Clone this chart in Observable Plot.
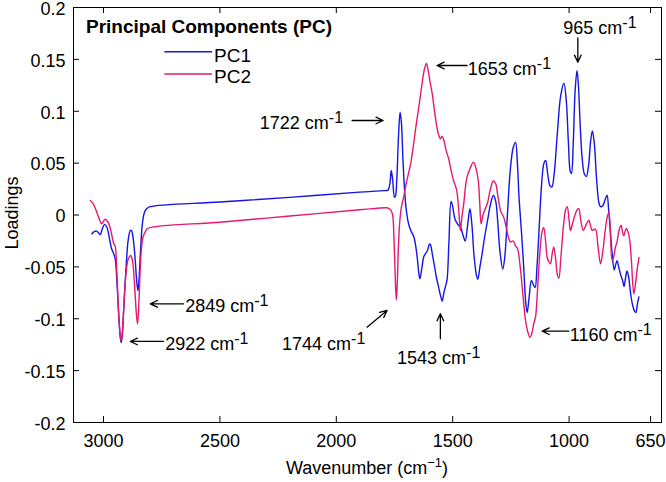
<!DOCTYPE html>
<html><head><meta charset="utf-8">
<script src="https://cdn.jsdelivr.net/npm/d3@7"></script>
<script src="https://cdn.jsdelivr.net/npm/@observablehq/plot@0.6"></script>
<style>
html,body{margin:0;padding:0;background:#fff;overflow:hidden;}
#chart svg{display:block;overflow:visible;}
</style></head><body><div id="chart"></div>
<script>
const xTicks = [3000, 2500, 2000, 1500, 1000, 650];
const yTicks = [-0.2, -0.15, -0.1, -0.05, 0, 0.05, 0.1, 0.15, 0.2];
const seriesNames = ["PC1", "PC2"];
const legendTitle = "Principal Components (PC)";

// [wavenumber, loading]
const pc1 = [[3050,-0.018],[3040,-0.016],[3030,-0.0155],[3022,-0.017],[3014,-0.019],[3005,-0.013],[2995,-0.009],[2985,-0.012],[2975,-0.022],[2966,-0.032],[2957,-0.037],[2950,-0.042],[2943,-0.062],[2935,-0.095],[2928,-0.118],[2924,-0.123],[2919,-0.115],[2912,-0.085],[2903,-0.05],[2894,-0.024],[2885,-0.015],[2880,-0.015],[2873,-0.022],[2865,-0.04],[2857,-0.065],[2852,-0.073],[2847,-0.06],[2840,-0.03],[2833,-0.008],[2825,0.002],[2815,0.006],[2800,0.008],[2500,0.0125],[2200,0.017],[1900,0.022],[1800,0.0235],[1778,0.024],[1770,0.03],[1764,0.043],[1758,0.034],[1750,0.017],[1746,0.018],[1740,0.035],[1733,0.075],[1726,0.099],[1720,0.088],[1714,0.055],[1707,0.025],[1700,0.006],[1690,-0.008],[1680,-0.015],[1667,-0.021],[1655,-0.036],[1646,-0.055],[1641,-0.0615],[1633,-0.052],[1624,-0.04],[1616,-0.037],[1608,-0.034],[1600,-0.028],[1595,-0.029],[1588,-0.037],[1580,-0.047],[1570,-0.06],[1560,-0.07],[1552,-0.078],[1545,-0.083],[1538,-0.075],[1530,-0.068],[1524,-0.062],[1516,-0.025],[1507,0.013],[1500,0.008],[1490,-0.004],[1478,-0.009],[1466,-0.012],[1455,-0.02],[1446,-0.025],[1436,-0.01],[1426,0.006],[1418,-0.008],[1408,-0.04],[1398,-0.058],[1392,-0.062],[1383,-0.05],[1374,-0.038],[1362,-0.02],[1350,-0.005],[1338,0.01],[1325,0.019],[1315,0.013],[1307,-0.005],[1297,-0.035],[1285,-0.052],[1276,-0.04],[1265,0.0],[1252,0.045],[1240,0.065],[1230,0.07],[1222,0.05],[1215,0.017],[1205,-0.015],[1195,-0.05],[1186,-0.085],[1180,-0.094],[1172,-0.08],[1162,-0.063],[1154,-0.067],[1146,-0.07],[1138,-0.05],[1128,-0.01],[1118,0.03],[1108,0.05],[1101,0.0525],[1092,0.04],[1082,0.028],[1074,0.027],[1064,0.04],[1050,0.08],[1036,0.115],[1022,0.127],[1012,0.11],[1003,0.07],[995,0.042],[990,0.04],[982,0.07],[974,0.12],[966,0.139],[960,0.125],[952,0.085],[944,0.055],[935,0.04],[926,0.037],[916,0.048],[908,0.07],[900,0.081],[892,0.07],[882,0.035],[872,0.012],[865,0.008],[855,0.009],[845,0.015],[837,0.019],[830,0.005],[823,-0.015],[814,-0.04],[806,-0.053],[800,-0.048],[794,-0.044],[786,-0.051],[778,-0.058],[770,-0.063],[764,-0.069],[757,-0.06],[751,-0.054],[744,-0.06],[736,-0.075],[727,-0.087],[718,-0.093],[713,-0.094],[706,-0.085],[700,-0.079]];

const pc2 = [[3057,0.014],[3048,0.012],[3038,0.008],[3028,0.002],[3018,-0.004],[3008,-0.0085],[3000,-0.006],[2993,-0.004],[2983,-0.006],[2973,-0.011],[2964,-0.02],[2957,-0.027],[2950,-0.03],[2943,-0.055],[2935,-0.095],[2928,-0.117],[2924,-0.121],[2919,-0.112],[2912,-0.085],[2903,-0.055],[2893,-0.042],[2883,-0.039],[2875,-0.045],[2866,-0.07],[2859,-0.095],[2854,-0.105],[2849,-0.09],[2843,-0.055],[2837,-0.032],[2830,-0.021],[2820,-0.016],[2810,-0.013],[2500,-0.007],[2200,-0.001],[1900,0.005],[1785,0.007],[1775,0.0065],[1765,0.0045],[1758,0.0],[1752,-0.025],[1746,-0.065],[1742,-0.082],[1738,-0.065],[1733,-0.03],[1727,-0.005],[1720,0.008],[1710,0.018],[1700,0.03],[1690,0.04],[1681,0.049],[1670,0.065],[1660,0.082],[1645,0.105],[1632,0.126],[1622,0.14],[1613,0.146],[1605,0.139],[1597,0.128],[1588,0.117],[1578,0.1],[1568,0.085],[1560,0.077],[1553,0.0734],[1546,0.076],[1538,0.072],[1528,0.062],[1517,0.054],[1506,0.042],[1496,0.033],[1483,0.024],[1476,0.01],[1471,-0.005],[1467,-0.015],[1461,-0.003],[1452,0.012],[1440,0.035],[1425,0.045],[1411,0.051],[1400,0.045],[1390,0.033],[1384,0.012],[1378,-0.0085],[1370,0.0],[1360,0.006],[1350,0.012],[1338,0.025],[1325,0.033],[1315,0.03],[1305,0.017],[1293,0.003],[1281,-0.002],[1270,-0.012],[1260,-0.022],[1252,-0.026],[1240,-0.025],[1230,-0.03],[1222,-0.032],[1210,-0.05],[1198,-0.078],[1188,-0.1],[1178,-0.112],[1168,-0.118],[1160,-0.114],[1152,-0.105],[1144,-0.098],[1135,-0.07],[1125,-0.035],[1116,-0.016],[1109,-0.012],[1101,-0.025],[1094,-0.041],[1087,-0.045],[1080,-0.047],[1073,-0.038],[1066,-0.031],[1058,-0.042],[1050,-0.058],[1044,-0.061],[1035,-0.04],[1024,-0.01],[1015,0.005],[1008,0.008],[1000,-0.005],[994,-0.015],[985,-0.008],[975,0.0],[965,0.005],[958,0.006],[950,-0.005],[939,-0.015],[928,-0.01],[915,-0.005],[908,-0.01],[901,-0.015],[894,-0.014],[886,-0.014],[876,-0.03],[865,-0.047],[855,-0.035],[845,-0.015],[836,-0.002],[829,0.0025],[822,-0.02],[815,-0.044],[808,-0.04],[800,-0.03],[796,-0.028],[788,-0.018],[780,-0.011],[776,-0.01],[770,-0.017],[765,-0.02],[758,-0.015],[753,-0.013],[746,-0.017],[739,-0.025],[732,-0.045],[722,-0.076],[714,-0.065],[706,-0.05],[700,-0.041]];

// peak annotations: label, text anchor point, arrow tail, arrow head (data coords)
const peakLabels = ["1722", "1653", "965", "2849", "2922", "1744", "1543", "1160"];
const peakTextAnchor = ["end", "start", "start", "start", "start", "start", "start", "start"];
const peakTextAt = [[1971,0.0831],[1435,0.1345],[1025,0.1747],[2649,-0.0937],[2735,-0.1299],[2233,-0.1306],[1739,-0.1434],[997,-0.121]];
const arrowFrom = [[1932,0.0911],[1438,0.1441],[962.5,0.1708],[2656,-0.0856],[2742,-0.1219],[1868,-0.1081],[1553,-0.1193],[1001,-0.112]];
const arrowTo = [[1799,0.0911],[1567,0.1441],[962.5,0.1473],[2799,-0.0856],[2885,-0.1219],[1782,-0.092],[1553,-0.0952],[1115.5,-0.112]];

const W = 666, H = 482, mL = 73, mR = 5, mT = 7, mB = 60;
const iw = W - mL - mR, ih = H - mT - mB;
const colors = ["#1414e6", "#e8186f"];
const font = "'Liberation Sans', Arial, Helvetica, sans-serif";
const idx = d3.range(peakLabels.length);

const chart = Plot.plot({
  width: W, height: H,
  marginLeft: mL, marginRight: mR, marginTop: mT, marginBottom: mB,
  style: {fontFamily: font, fontSize: "18px", color: "#000", background: "#fff", overflow: "visible"},
  x: {domain: [3129, 603], label: null},
  y: {domain: [-0.2, 0.2], label: null},
  marks: [
    Plot.line(pc1, {x: d => d[0], y: d => d[1], stroke: colors[0], strokeWidth: 1.4, curve: "catmull-rom"}),
    Plot.line(pc2, {x: d => d[0], y: d => d[1], stroke: colors[1], strokeWidth: 1.4, curve: "catmull-rom"}),
    Plot.arrow(idx, {x1: i => arrowFrom[i][0], y1: i => arrowFrom[i][1], x2: i => arrowTo[i][0], y2: i => arrowTo[i][1],
      stroke: "#000", strokeWidth: 1.3, headLength: 9, headAngle: 50}),
    Plot.text(idx.filter(i => peakTextAnchor[i] === "end"), {x: i => peakTextAt[i][0], y: i => peakTextAt[i][1],
      text: i => peakLabels[i] + " cm", textAnchor: "end", lineAnchor: "bottom", fontSize: 18, fill: "#000"}),
    Plot.text(idx.filter(i => peakTextAnchor[i] === "start"), {x: i => peakTextAt[i][0], y: i => peakTextAt[i][1],
      text: i => peakLabels[i] + " cm", textAnchor: "start", lineAnchor: "bottom", fontSize: 18, fill: "#000"}),
    Plot.frame({stroke: "#000", strokeWidth: 1}),
    Plot.tickX(xTicks, {x: d => d, insetTop: ih - 6, stroke: "#000"}),
    Plot.tickX(xTicks, {x: d => d, insetBottom: ih - 6, stroke: "#000"}),
    Plot.tickY(yTicks, {y: d => d, insetRight: iw - 6, stroke: "#000"}),
    Plot.tickY(yTicks, {y: d => d, insetLeft: iw - 6, stroke: "#000"}),
    Plot.axisX(xTicks, {tickSize: 0, tickPadding: 12, fontSize: 18, tickFormat: d => String(d), label: null}),
    Plot.axisY(yTicks, {tickSize: 0, tickPadding: 8, dy: 1.5, fontSize: 18, tickFormat: d => String(+d.toFixed(2)), label: null})
  ]
});
document.getElementById("chart").appendChild(chart);

const svg = d3.select(chart);
// superscripts on peak labels
svg.selectAll("text").each(function () {
  if (/ cm$/.test(this.textContent)) {
    d3.select(this).append("tspan").attr("dy", -6).attr("font-size", 16).text("-1");
  }
});

const g = svg.append("g").attr("font-family", font).attr("fill", "#000");
g.append("text").attr("x", 86).attr("y", 32.7).attr("font-size", 19).attr("font-weight", "bold")
  .attr("text-anchor", "start").text(legendTitle);
seriesNames.forEach((n, i) => {
  const ly = [51.7, 74][i];
  g.append("line").attr("x1", 164.3).attr("x2", 212).attr("y1", ly).attr("y2", ly)
    .attr("stroke", colors[i]).attr("stroke-width", 1.4);
  g.append("text").attr("x", 214).attr("y", [61.5, 83.3][i]).attr("font-size", 19)
    .attr("text-anchor", "start").text(n);
});
const xl = g.append("text").attr("x", 367).attr("y", 474).attr("text-anchor", "middle").attr("font-size", 18);
xl.append("tspan").text("Wavenumber (cm");
xl.append("tspan").attr("dy", -7).attr("font-size", 13).text("\u22121");
xl.append("tspan").attr("dy", 7).text(")");
g.append("text").attr("transform", "translate(17.5,213) rotate(-90)").attr("text-anchor", "middle")
  .attr("font-size", 18).text("Loadings");
</script>
</body></html>
